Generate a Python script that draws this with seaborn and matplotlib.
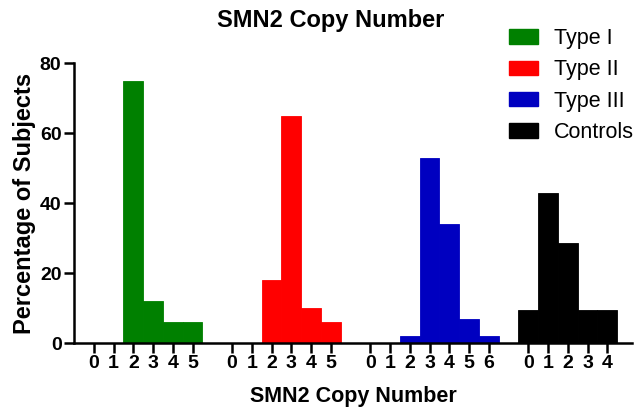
import pandas as pd
import matplotlib
matplotlib.use("Agg")
import matplotlib.pyplot as plt
import seaborn as sns
from matplotlib.patches import Patch

# SMN2 copy number distribution (% of subjects) per group
groups = ["Type I", "Type II", "Type III", "Controls"]
type1_copies = [0, 1, 2, 3, 4, 5]
type1_pct = [0, 0, 75, 12, 6, 6]
type2_copies = [0, 1, 2, 3, 4, 5]
type2_pct = [0, 0, 18, 65, 10, 6]
type3_copies = [0, 1, 2, 3, 4, 5, 6]
type3_pct = [0, 0, 2, 53, 34, 7, 2]
control_copies = [0, 1, 2, 3, 4]
control_pct = [9.5, 43, 28.5, 9.5, 9.5]
colors = ["#008000", "#FF0000", "#0000C0", "#000000"]

# one slot per copy number, one empty slot between groups
rows = []
start = 0
for g, copies, pct in zip(groups,
                          [type1_copies, type2_copies, type3_copies, control_copies],
                          [type1_pct, type2_pct, type3_pct, control_pct]):
    for c, p in zip(copies, pct):
        rows.append({"group": g, "copy": c, "pct": p, "pos": start + c})
    start += len(copies) + 1
df = pd.DataFrame(rows)

sns.set_style("white")
plt.rcParams["font.family"] = ["Liberation Sans", "DejaVu Sans"]
plt.rcParams["text.color"] = "black"
plt.rcParams["axes.labelcolor"] = "black"
plt.rcParams["xtick.color"] = "black"
plt.rcParams["ytick.color"] = "black"

fig = plt.figure(figsize=(6.43, 4.13), dpi=100)
ax = fig.add_axes([74 / 643, 1 - 343 / 413, (632 - 74) / 643, (343 - 63.3) / 413])

sns.barplot(data=df, x="pos", y="pct", hue="group", hue_order=groups,
            palette=colors, saturation=1, native_scale=True, width=1, dodge=False,
            errorbar=None, legend=False, linewidth=0, ax=ax)

for p in ax.patches:
    p.set_edgecolor(p.get_facecolor())
    p.set_linewidth(0.6 if p.get_height() > 0 else 0)

ax.set_xlim(-1, 27.25)
ax.set_ylim(0, 80)
ax.set_yticks([0, 20, 40, 60, 80])
ax.set_xticks(df["pos"], [str(c) for c in df["copy"]])

sns.despine(ax=ax)
for s in ["left", "bottom"]:
    ax.spines[s].set_linewidth(1.8)
    ax.spines[s].set_color("black")
ax.tick_params(axis="both", direction="out", length=7, width=1.8, color="black",
               labelcolor="black", labelsize=14, pad=2, left=True, bottom=True)
for lab in ax.get_xticklabels() + ax.get_yticklabels():
    lab.set_fontweight("bold")

ax.set_xlabel("SMN2 Copy Number", fontsize=15.5, fontweight="bold")
ax.xaxis.set_label_coords(0.5, -0.155)
ax.set_ylabel("Percentage of Subjects", fontsize=17, fontweight="bold")
ax.yaxis.set_label_coords(-0.068, 0.5)

fig.text(331 / 643, 1 - 20 / 413, "SMN2 Copy Number", ha="center", va="center",
         fontsize=17, fontweight="bold")

handles = [Patch(facecolor=c, edgecolor=c) for c in colors]
fig.legend(handles, groups, loc="upper left", bbox_to_anchor=(509 / 643, 1 - 28 / 413),
           frameon=False, fontsize=15.5, handlelength=1.35, handleheight=0.65,
           handletextpad=0.75, labelspacing=0.48, borderpad=0, borderaxespad=0)

fig.savefig("out.png", dpi=100)
